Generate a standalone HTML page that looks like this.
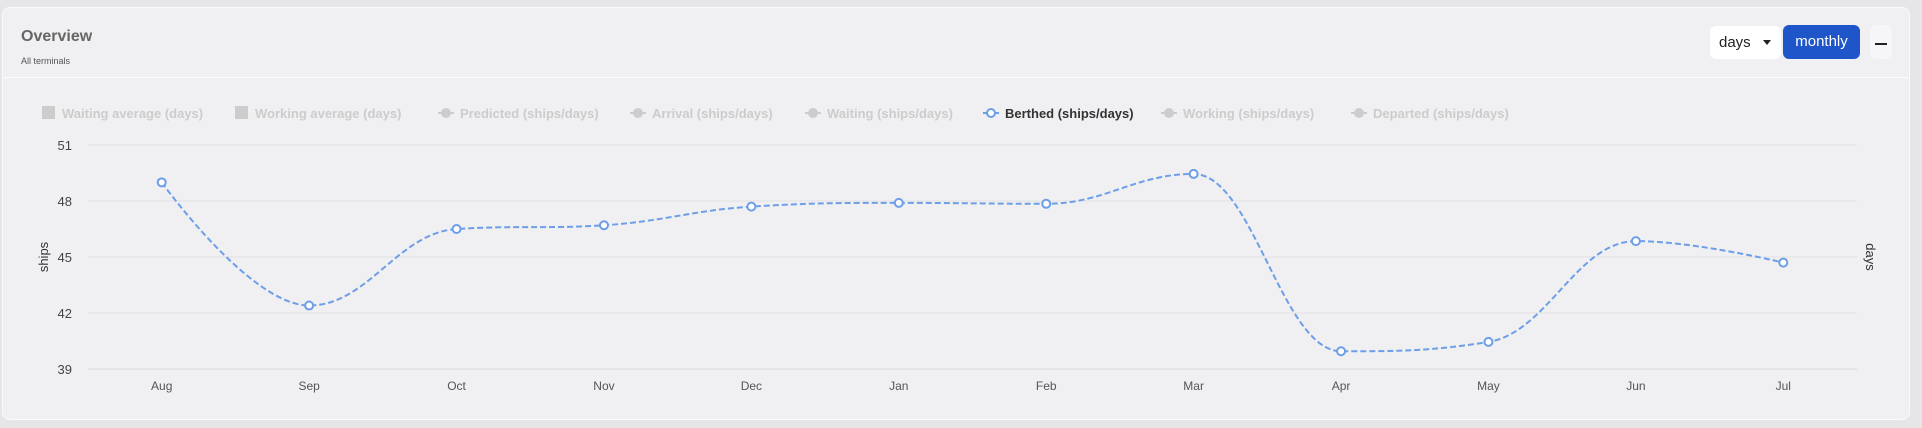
<!DOCTYPE html>
<html><head><meta charset="utf-8">
<style>
body{margin:0;width:1922px;height:428px;background:#e6e6e9;font-family:"Liberation Sans",sans-serif;overflow:hidden;position:relative}
.card{position:absolute;left:2px;top:7px;width:1906px;height:411px;background:#f0f0f3;border-radius:8px;border:1px solid #fafafa}
.hdr{position:absolute;left:2px;top:77px;width:1906px;height:1px;background:#fbfbfc}
.t{position:absolute;left:21px;top:28px;font-size:16px;font-weight:bold;color:#666}
.s{position:absolute;left:21px;top:56px;font-size:9px;color:#555}
.days{position:absolute;left:1710px;top:26px;width:71px;height:33px;background:#fff;border-radius:6px;font-size:15px;color:#222;line-height:33px;padding-left:9px;box-sizing:border-box}
.days:after{content:"";position:absolute;right:10px;top:14px;border:4px solid transparent;border-top:5px solid #222}
.mon{position:absolute;left:1783px;top:25px;width:77px;height:34px;background:#1e56c9;border-radius:6px;color:#fff;font-size:15px;line-height:34px;text-align:center}
.min{position:absolute;left:1870px;top:25px;width:22px;height:34px;background:#f6f6f8;border-radius:6px}
.min:after{content:"";position:absolute;left:5px;top:18px;width:12px;height:2px;background:#222}
</style></head><body>
<div class="card"></div>
<div class="hdr"></div>
<div class="t">Overview</div>
<div class="s">All terminals</div>
<div class="days">days</div>
<div class="mon">monthly</div>
<div class="min"></div>
<svg id="c" width="1922" height="428" style="position:absolute;left:0;top:0"></svg>
<script>
const categories=["Aug","Sep","Oct","Nov","Dec","Jan","Feb","Mar","Apr","May","Jun","Jul"];
const berthed=[49.0,42.4,46.5,46.7,47.7,47.9,47.85,49.45,39.95,40.45,45.85,44.7];
const yTicks=[39,42,45,48,51];
const legendLabels=["Waiting average (days)","Working average (days)","Predicted (ships/days)","Arrival (ships/days)","Waiting (ships/days)","Berthed (ships/days)","Working (ships/days)","Departed (ships/days)"];
const legendX=[42,235,438,630,805,983,1161,1351];
const legendType=["sq","sq","ln","ln","ln","active","ln","ln"];
const svg=document.getElementById('c');const NS="http://www.w3.org/2000/svg";
function mk(t,a,p){const e=document.createElementNS(NS,t);for(const k in a)e.setAttribute(k,a[k]);(p||svg).appendChild(e);return e;}
const L=88,R=1857,T=145,B=369,ymin=39,ymax=51;
const bw=(R-L)/categories.length;
const xs=i=>L+bw*(i+0.5);
const ys=v=>B-(v-ymin)/(ymax-ymin)*(B-T);
yTicks.forEach(v=>{
 const g=mk('line',{x1:L,x2:R,y1:ys(v),y2:ys(v),stroke:v===ymin?'#d8d8de':'#e2e2e6','stroke-width':1});
 
 
 const t=mk('text',{x:72,y:ys(v)+5,'text-anchor':'end','font-size':13,fill:'#444'});t.textContent=v;
 
 
});
categories.forEach((c,i)=>{
 const t=mk('text',{x:xs(i),y:390,'text-anchor':'middle','font-size':12,fill:'#555'});t.textContent=c;
 
 
});
let t=mk('text',{transform:'translate(48,257) rotate(-90)','text-anchor':'middle','font-size':13,fill:'#333'});t.textContent='ships';


t=mk('text',{transform:'translate(1866,257) rotate(90)','text-anchor':'middle','font-size':13,fill:'#333'});t.textContent='days';


// spline (highcharts style)
const P=berthed.map((v,i)=>[xs(i),ys(v)]);
let d='M'+P[0][0]+' '+P[0][1];
function cp(i){const s=1.5,den=s+1;const p=P[i],a=P[i-1],b=P[i+1];
 if(!a||!b)return [p,p];
 let lx=(s*p[0]+a[0])/den,ly=(s*p[1]+a[1])/den,rx=(s*p[0]+b[0])/den,ry=(s*p[1]+b[1])/den;
 let corr=0;if(rx!==lx)corr=((ry-ly)*(rx-p[0]))/(rx-lx)+p[1]-ry;
 ly+=corr;ry+=corr;
 if(ly>a[1]&&ly>p[1]){ly=Math.max(a[1],p[1]);ry=2*p[1]-ly;}else if(ly<a[1]&&ly<p[1]){ly=Math.min(a[1],p[1]);ry=2*p[1]-ly;}
 if(ry>b[1]&&ry>p[1]){ry=Math.max(b[1],p[1]);ly=2*p[1]-ry;}else if(ry<b[1]&&ry<p[1]){ry=Math.min(b[1],p[1]);ly=2*p[1]-ry;}
 return [[lx,ly],[rx,ry]];}
for(let i=1;i<P.length;i++){const c1=cp(i-1)[1],c2=cp(i)[0];d+=` C${c1[0]} ${c1[1]} ${c2[0]} ${c2[1]} ${P[i][0]} ${P[i][1]}`;}
const line=mk('path',{d,fill:'none',stroke:'#6d9ee8','stroke-width':2,'stroke-dasharray':'6,3'});


P.forEach(p=>{const c=mk('circle',{cx:p[0],cy:p[1],r:4,fill:'#fff',stroke:'#6d9ee8','stroke-width':2});
 
 });
legendLabels.forEach((lab,i)=>{
 const g=mk('g',{});
 
 
 const x=legendX[i],y=113,ty=legendType[i];
 let tx;
 if(ty==='sq'){mk('rect',{x:x,y:y-7,width:13,height:13,fill:'#ccc'},g);tx=x+20;}
 else{const col=ty==='active'?'#6d9ee8':'#ccc';
  mk('line',{x1:x,x2:x+16,y1:y,y2:y,stroke:col,'stroke-width':2},g);
  mk('circle',{cx:x+8,cy:y,r:4,fill:ty==='active'?'#fff':'#ccc',stroke:col,'stroke-width':2},g);tx=x+22;}
 const tt=mk('text',{x:tx,y:y+5,'font-size':13,'font-weight':'bold',fill:ty==='active'?'#333':'#ccc'},g);tt.textContent=lab;
});
</script>
</body></html>
